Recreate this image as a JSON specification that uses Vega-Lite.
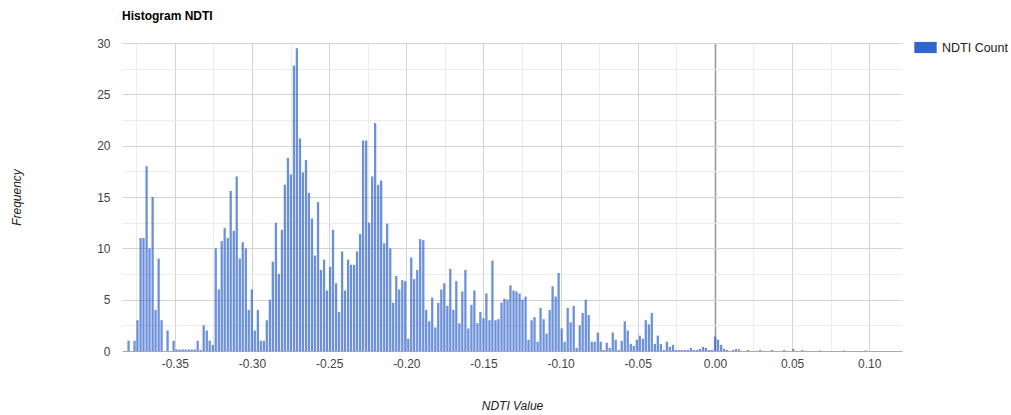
{
  "$schema": "https://vega.github.io/schema/vega-lite/v6.json",
  "width": 780,
  "height": 308,
  "autosize": {"type": "none"},
  "padding": {"left": 122, "top": 43, "right": 109, "bottom": 64},
  "background": "white",
  "title": {"text": "Histogram NDTI", "anchor": "start", "frame": "group", "font": "Liberation Sans", "fontSize": 12, "fontWeight": "bold", "color": "#000000", "offset": 13},
  "config": {"view": {"stroke": null}, "font": "Liberation Sans"},
  "data": {"values": [
    {"v": -0.3800, "n": 1}, {"v": -0.3761, "n": 1}, {"v": -0.3742, "n": 3}, {"v": -0.3722, "n": 11}, {"v": -0.3703, "n": 11},
    {"v": -0.3683, "n": 18}, {"v": -0.3664, "n": 10}, {"v": -0.3644, "n": 15}, {"v": -0.3625, "n": 4}, {"v": -0.3605, "n": 9},
    {"v": -0.3586, "n": 3}, {"v": -0.3547, "n": 2}, {"v": -0.3508, "n": 1}, {"v": -0.3488, "n": 0.15}, {"v": -0.3469, "n": 0.15},
    {"v": -0.3449, "n": 0.15}, {"v": -0.3430, "n": 0.15}, {"v": -0.3410, "n": 0.15}, {"v": -0.3391, "n": 0.15}, {"v": -0.3371, "n": 0.15},
    {"v": -0.3352, "n": 1}, {"v": -0.3332, "n": 0.1}, {"v": -0.3313, "n": 2.5}, {"v": -0.3293, "n": 2}, {"v": -0.3274, "n": 1},
    {"v": -0.3254, "n": 0.6}, {"v": -0.3235, "n": 10}, {"v": -0.3215, "n": 6}, {"v": -0.3196, "n": 10.7}, {"v": -0.3177, "n": 12},
    {"v": -0.3157, "n": 11}, {"v": -0.3138, "n": 15.6}, {"v": -0.3118, "n": 11.7}, {"v": -0.3099, "n": 17}, {"v": -0.3079, "n": 9},
    {"v": -0.3060, "n": 10.6}, {"v": -0.3040, "n": 10}, {"v": -0.3021, "n": 4}, {"v": -0.3001, "n": 6}, {"v": -0.2982, "n": 2},
    {"v": -0.2962, "n": 4}, {"v": -0.2943, "n": 1}, {"v": -0.2923, "n": 1}, {"v": -0.2904, "n": 3}, {"v": -0.2884, "n": 5},
    {"v": -0.2865, "n": 8.7}, {"v": -0.2845, "n": 12.5}, {"v": -0.2826, "n": 7.5}, {"v": -0.2806, "n": 11.8}, {"v": -0.2787, "n": 16.2},
    {"v": -0.2767, "n": 18.8}, {"v": -0.2748, "n": 17.2}, {"v": -0.2728, "n": 27.8}, {"v": -0.2709, "n": 29.5}, {"v": -0.2689, "n": 20.7},
    {"v": -0.2670, "n": 17.4}, {"v": -0.2650, "n": 18.6}, {"v": -0.2631, "n": 15.4}, {"v": -0.2611, "n": 12.9}, {"v": -0.2592, "n": 9.3},
    {"v": -0.2572, "n": 14.5}, {"v": -0.2553, "n": 7.9}, {"v": -0.2533, "n": 8.9}, {"v": -0.2514, "n": 5.9}, {"v": -0.2494, "n": 8.2},
    {"v": -0.2475, "n": 11.8}, {"v": -0.2455, "n": 6.6}, {"v": -0.2436, "n": 3.8}, {"v": -0.2416, "n": 9.7}, {"v": -0.2397, "n": 5.9},
    {"v": -0.2377, "n": 8.9}, {"v": -0.2358, "n": 8.4}, {"v": -0.2338, "n": 8.4}, {"v": -0.2319, "n": 9.7}, {"v": -0.2299, "n": 11.4},
    {"v": -0.2280, "n": 20.5}, {"v": -0.2260, "n": 20.5}, {"v": -0.2241, "n": 12.5}, {"v": -0.2221, "n": 17}, {"v": -0.2202, "n": 22.2},
    {"v": -0.2182, "n": 16.2}, {"v": -0.2163, "n": 16.6}, {"v": -0.2143, "n": 10.5}, {"v": -0.2124, "n": 12.4}, {"v": -0.2104, "n": 10},
    {"v": -0.2085, "n": 4.7}, {"v": -0.2065, "n": 7.3}, {"v": -0.2046, "n": 6}, {"v": -0.2026, "n": 6.9}, {"v": -0.2007, "n": 6.8},
    {"v": -0.1987, "n": 1.2}, {"v": -0.1968, "n": 9.1}, {"v": -0.1949, "n": 7}, {"v": -0.1929, "n": 7.9}, {"v": -0.1910, "n": 10.9},
    {"v": -0.1890, "n": 10.8}, {"v": -0.1871, "n": 4}, {"v": -0.1851, "n": 2.9}, {"v": -0.1832, "n": 5.2}, {"v": -0.1812, "n": 2.3},
    {"v": -0.1793, "n": 4.7}, {"v": -0.1773, "n": 6}, {"v": -0.1754, "n": 6.6}, {"v": -0.1734, "n": 4.4}, {"v": -0.1715, "n": 8},
    {"v": -0.1695, "n": 4}, {"v": -0.1676, "n": 6.8}, {"v": -0.1656, "n": 2.7}, {"v": -0.1637, "n": 5.8}, {"v": -0.1617, "n": 7.9},
    {"v": -0.1598, "n": 2.2}, {"v": -0.1578, "n": 4.5}, {"v": -0.1559, "n": 5.9}, {"v": -0.1539, "n": 2.7}, {"v": -0.1520, "n": 3.8},
    {"v": -0.1500, "n": 3.2}, {"v": -0.1481, "n": 5.6}, {"v": -0.1461, "n": 3}, {"v": -0.1442, "n": 8.8}, {"v": -0.1422, "n": 3},
    {"v": -0.1403, "n": 3.1}, {"v": -0.1383, "n": 4.7}, {"v": -0.1364, "n": 5.1}, {"v": -0.1344, "n": 5}, {"v": -0.1325, "n": 6.4},
    {"v": -0.1305, "n": 5.9}, {"v": -0.1286, "n": 5.8}, {"v": -0.1266, "n": 5.6}, {"v": -0.1247, "n": 5}, {"v": -0.1227, "n": 5.3},
    {"v": -0.1208, "n": 1.1}, {"v": -0.1188, "n": 3}, {"v": -0.1169, "n": 3.3}, {"v": -0.1149, "n": 0.9}, {"v": -0.1130, "n": 4.2},
    {"v": -0.1110, "n": 3.1}, {"v": -0.1091, "n": 1.7}, {"v": -0.1071, "n": 4}, {"v": -0.1052, "n": 6.3}, {"v": -0.1032, "n": 5.3},
    {"v": -0.1013, "n": 7.6}, {"v": -0.0993, "n": 2.2}, {"v": -0.0974, "n": 0.9}, {"v": -0.0954, "n": 4.2}, {"v": -0.0935, "n": 2.8},
    {"v": -0.0915, "n": 4.4}, {"v": -0.0896, "n": 0.3}, {"v": -0.0876, "n": 2.5}, {"v": -0.0857, "n": 3.7}, {"v": -0.0837, "n": 5},
    {"v": -0.0818, "n": 3.5}, {"v": -0.0798, "n": 0.9}, {"v": -0.0779, "n": 0.9}, {"v": -0.0759, "n": 1.8}, {"v": -0.0740, "n": 0.9},
    {"v": -0.0721, "n": 0.1}, {"v": -0.0701, "n": 0.8}, {"v": -0.0682, "n": 0.3}, {"v": -0.0662, "n": 1.8}, {"v": -0.0643, "n": 1.1},
    {"v": -0.0623, "n": 0.1}, {"v": -0.0604, "n": 1}, {"v": -0.0584, "n": 2.9}, {"v": -0.0565, "n": 2}, {"v": -0.0545, "n": 0.7},
    {"v": -0.0526, "n": 0.5}, {"v": -0.0506, "n": 1.1}, {"v": -0.0487, "n": 1.5}, {"v": -0.0467, "n": 1.2}, {"v": -0.0448, "n": 3},
    {"v": -0.0428, "n": 2.6}, {"v": -0.0409, "n": 3.7}, {"v": -0.0389, "n": 0.7}, {"v": -0.0370, "n": 1.5}, {"v": -0.0350, "n": 0.7},
    {"v": -0.0331, "n": 0.1}, {"v": -0.0311, "n": 0.9}, {"v": -0.0292, "n": 0.4}, {"v": -0.0272, "n": 0.6}, {"v": -0.0253, "n": 0.1},
    {"v": -0.0233, "n": 0.1}, {"v": -0.0214, "n": 0.1}, {"v": -0.0194, "n": 0.1}, {"v": -0.0175, "n": 0.1}, {"v": -0.0155, "n": 0.3},
    {"v": -0.0136, "n": 0.1}, {"v": -0.0116, "n": 0.1}, {"v": -0.0097, "n": 0.2}, {"v": -0.0077, "n": 0.4}, {"v": -0.0058, "n": 0.3},
    {"v": -0.0038, "n": 0.1}, {"v": -0.0019, "n": 0.1}, {"v": 0.0001, "n": 1.4}, {"v": 0.0020, "n": 1.1}, {"v": 0.0040, "n": 0.6},
    {"v": 0.0059, "n": 0.2}, {"v": 0.0079, "n": 0.1}, {"v": 0.0118, "n": 0.1}, {"v": 0.0137, "n": 0.2}, {"v": 0.0156, "n": 0.15},
    {"v": 0.0215, "n": 0.1}, {"v": 0.0293, "n": 0.1}, {"v": 0.0371, "n": 0.1}, {"v": 0.0449, "n": 0.1}, {"v": 0.0508, "n": 0.2},
    {"v": 0.0566, "n": 0.1}, {"v": 0.0683, "n": 0.05}, {"v": 0.0839, "n": 0.05}, {"v": 0.0976, "n": 0.05}
  ]},
  "mark": {"type": "bar", "size": 2.3, "fillOpacity": 0.72, "clip": true},
  "encoding": {
    "x": {
      "field": "v", "type": "quantitative",
      "scale": {"domain": [-0.381, 0.118], "nice": false, "zero": false},
      "axis": {
        "title": "NDTI Value", "titleFont": "Liberation Sans", "titleFontStyle": "italic", "titleFontWeight": "normal", "titleFontSize": 12, "titleColor": "#222222", "titlePadding": 31,
        "values": [-0.375, -0.35, -0.325, -0.3, -0.275, -0.25, -0.225, -0.2, -0.175, -0.15, -0.125, -0.1, -0.075, -0.05, -0.025, 0, 0.025, 0.05, 0.075, 0.1],
        "labelExpr": "abs(round(datum.value*1000)) % 50 == 0 ? replace(format(datum.value, '.2f'), '\u2212', '-') : ''",
        "labelFont": "Liberation Sans", "labelFontSize": 12, "labelColor": "#444444", "labelPadding": 7, "labelFlush": false, "labelOverlap": false,
        "ticks": false, "domain": false, "grid": true,
        "gridColor": {"condition": [{"test": "datum.value == 0", "value": "#999999"}, {"test": "abs(round(datum.value*1000)) % 50 == 0", "value": "#d4d4d4"}], "value": "#ededed"},
        "gridWidth": {"condition": {"test": "datum.value == 0", "value": 1.6}, "value": 1}
      }
    },
    "y": {
      "field": "n", "type": "quantitative",
      "scale": {"domain": [0, 30], "nice": false},
      "axis": {
        "title": "Frequency", "titleFont": "Liberation Sans", "titleFontStyle": "italic", "titleFontWeight": "normal", "titleFontSize": 12, "titleColor": "#222222", "titlePadding": 73,
        "values": [0, 2.5, 5, 7.5, 10, 12.5, 15, 17.5, 20, 22.5, 25, 27.5, 30],
        "labelExpr": "datum.value % 5 == 0 ? format(datum.value, 'd') : ''",
        "labelFont": "Liberation Sans", "labelFontSize": 12, "labelColor": "#444444", "labelPadding": 12,
        "ticks": false, "domain": false, "grid": true,
        "gridColor": {"condition": [{"test": "datum.value == 0", "value": "#aaaaaa"}, {"test": "datum.value % 5 == 0", "value": "#d4d4d4"}], "value": "#ededed"}
      }
    },
    "color": {
      "datum": "NDTI Count", "type": "nominal",
      "scale": {"range": ["#3366cc"]},
      "legend": {"title": null, "orient": "none", "legendX": 792, "legendY": -7, "symbolType": "M-1,-0.5H1V0.5H-1Z", "symbolSize": 500, "symbolOpacity": 1, "symbolStrokeWidth": 0, "labelFont": "Liberation Sans", "labelFontSize": 12.5, "labelColor": "#222222", "labelOffset": 5}
    }
  }
}
